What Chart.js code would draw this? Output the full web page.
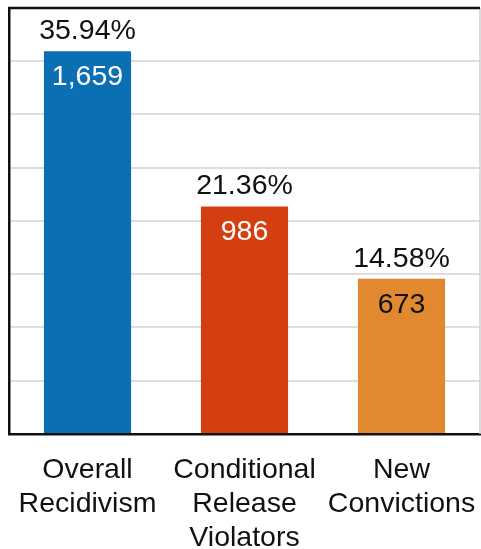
<!DOCTYPE html>
<html>
<head>
<meta charset="utf-8">
<script src="https://cdn.jsdelivr.net/npm/chart.js@4.4.1/dist/chart.umd.min.js"></script>
<style>
html,body{margin:0;padding:0;background:#fff;}
#wrap{width:481px;height:549px;position:relative;}
</style>
</head>
<body>
<div id="wrap"><canvas id="c"></canvas></div>
<script>
const categories = [['Overall','Recidivism'],['Conditional','Release','Violators'],['New','Convictions']];
const percentages = [35.94, 21.36, 14.58];
const counts = [1659, 986, 673];
const barColors = ['#0a6fb3', '#d43e10', '#e2892f'];
const countColors = ['#ffffff', '#ffffff', '#111111'];
const yTicks = [0, 5, 10, 15, 20, 25, 30, 35, 40];

const FONT = '"Liberation Sans", Arial, sans-serif';

const labelPlugin = {
  id: 'barLabels',
  afterDatasetsDraw(chart) {
    const ctx = chart.ctx;
    const meta = chart.getDatasetMeta(0);
    ctx.save();
    ctx.font = '28.5px ' + FONT;
    ctx.textAlign = 'center';
    ctx.textBaseline = 'middle';
    meta.data.forEach((bar, i) => {
      ctx.fillStyle = '#111111';
      ctx.fillText(percentages[i].toFixed(2) + '%', bar.x, bar.y - 20);
      ctx.fillStyle = countColors[i];
      ctx.fillText(counts[i].toLocaleString('en-US'), bar.x, bar.y + 26);
    });
    ctx.restore();
  }
};

const framePlugin = {
  id: 'frame',
  afterDraw(chart) {
    const a = chart.chartArea;
    const ctx = chart.ctx;
    ctx.save();
    ctx.strokeStyle = '#cfcfcf';
    ctx.lineWidth = 1.5;
    ctx.beginPath();
    ctx.moveTo(a.right, a.top);
    ctx.lineTo(a.right, a.bottom);
    ctx.stroke();
    ctx.strokeStyle = '#111111';
    ctx.lineWidth = 2.5;
    ctx.beginPath();
    ctx.moveTo(a.left - 1, a.top);
    ctx.lineTo(a.right, a.top);
    ctx.stroke();
    ctx.restore();
  }
};

new Chart(document.getElementById('c'), {
  type: 'bar',
  data: {
    labels: categories,
    datasets: [{
      data: percentages,
      backgroundColor: barColors,
      borderWidth: 0,
      barPercentage: 0.555,
      categoryPercentage: 1.0
    }]
  },
  options: {
    responsive: true,
    maintainAspectRatio: false,
    animation: false,
    devicePixelRatio: 1,
    layout: { padding: { left: 9, right: 1, top: 8, bottom: -6 } },
    plugins: { legend: { display: false }, tooltip: { enabled: false } },
    scales: {
      x: {
        grid: { display: false, drawTicks: true, tickLength: 19 },
        border: { display: true, color: '#111111', width: 2.5 },
        ticks: {
          color: '#111111',
          font: { family: FONT, size: 28.5, lineHeight: 1.193 },
          padding: 0,
          maxRotation: 0,
          autoSkip: false
        }
      },
      y: {
        min: 0,
        max: 40,
        afterBuildTicks(axis) { axis.ticks = yTicks.map(v => ({ value: v })); },
        grid: { color: '#dedede', lineWidth: 2, drawTicks: false },
        border: { display: true, color: '#111111', width: 2.5 },
        ticks: { display: false }
      }
    }
  },
  plugins: [labelPlugin, framePlugin]
});
</script>
</body>
</html>
